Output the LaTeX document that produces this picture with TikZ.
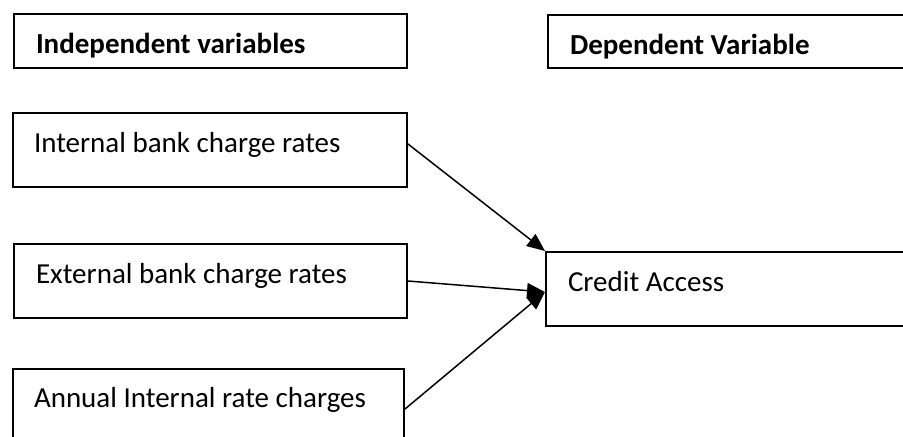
\documentclass[tikz,border=0pt]{standalone}
\usepackage{fontspec}
\setmainfont{Carlito}
\usetikzlibrary{arrows.meta}
\tikzset{
  varbox/.style={draw, line width=1pt, rectangle, anchor=north west, inner ysep=0pt,
              font=\fontsize{14.5}{17}\selectfont, align=flush left},
  headbox/.style={varbox, font=\fontsize{14.5}{17}\selectfont\bfseries},
  flow/.style={-{Triangle[length=9pt,width=7.5pt]}, line width=0.75pt},
}

\begin{document}
\begin{tikzpicture}[x=0.5pt,y=-0.5pt]
    \useasboundingbox (0,0) rectangle (903,436);
    \clip (0,0) rectangle (903,436);
    % headings
    \node[headbox,inner xsep=11pt,text width=174.5pt,text height=19.5pt,text depth=7.5pt]
      (indep) at (13,13) {Independent variables};
    \node[headbox,inner xsep=11pt,text width=184.5pt,text height=19.5pt,text depth=7pt]
      (dep) at (547,14) {Dependent Variable};
    % independent variables
    \node[varbox,inner xsep=10.5pt,text width=176pt,text height=19.5pt,text depth=17.5pt]
      (intl) at (12,112) {Internal bank charge rates};
    \node[varbox,inner xsep=11pt,text width=174.5pt,text height=19.5pt,text depth=17.5pt]
      (extl) at (13,243) {External bank charge rates};
    \node[varbox,inner xsep=10.5pt,text width=174.5pt,text height=19pt,text depth=35pt]
      (annl) at (12,368) {Annual Internal rate charges};
    % dependent variable
    \node[varbox,inner xsep=11pt,text width=185.5pt,text height=19.5pt,text depth=17.5pt]
      (credit) at (545,251) {Credit Access};
    \draw[flow] ([yshift=3pt]intl.east) -- (credit.north west);
    \draw[flow] (extl.east) -- ([yshift=-1.5pt]credit.west);
    \draw[flow] ([yshift=-20.5pt]annl.north east) -- ([yshift=-1.5pt]credit.west);
\end{tikzpicture}
\end{document}
